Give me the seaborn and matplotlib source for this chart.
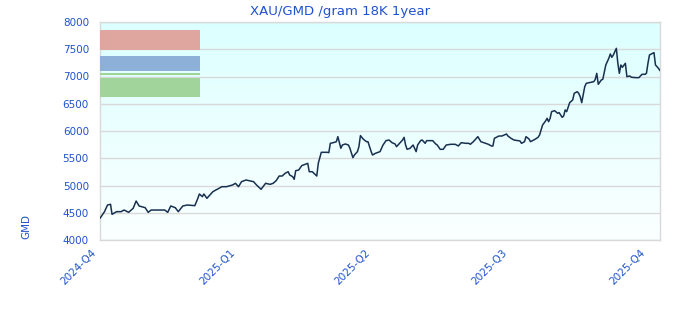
import numpy as np
import pandas as pd
import matplotlib
matplotlib.use("Agg")
import matplotlib.pyplot as plt
from matplotlib.patches import Rectangle
from matplotlib.colors import LinearSegmentedColormap
from matplotlib.transforms import ScaledTranslation
import seaborn as sns

# ---- data ----
start_date = "2024-10-01"
end_date = "2025-10-08"
days = [0, 3, 5, 7, 8, 11, 14, 16, 19, 22, 24, 26, 30, 32, 34, 39, 43, 45, 47, 50,
        52, 55, 58, 63, 65, 66, 68, 69, 71, 75, 77, 79, 81, 84, 88, 90, 92, 94, 97, 99,
        102, 104, 107, 108, 110, 113, 115, 117, 119, 121, 123, 125, 126, 128, 129, 130, 132, 134, 138, 139,
        141, 144, 145, 147, 151, 152, 153, 155, 157, 158, 160, 161, 163, 165, 166, 168, 169, 171, 172, 173,
        175, 177, 178, 180, 181, 183, 186, 188, 190, 192, 194, 196, 197, 201, 202, 203, 204, 206, 208, 210,
        211, 213, 214, 216, 217, 221, 223, 224, 226, 228, 230, 233, 236, 238, 240, 243, 245, 246, 248, 251,
        253, 256, 258, 260, 261, 262, 265, 267, 270, 271, 273, 275, 279, 280, 282, 283, 285, 286, 289, 291,
        292, 294, 296, 297, 298, 299, 300, 302, 304, 305, 307, 308, 309, 310, 312, 314, 315, 317, 318, 319,
        320, 322, 323, 325, 328, 329, 330, 331, 333, 334, 336, 338, 339, 340, 341, 343, 344, 345, 346, 347,
        349, 350, 352, 353, 356, 358, 360, 362, 363, 364, 365, 368, 369, 371, 372]
prices = [4398, 4520, 4642, 4655, 4471, 4520, 4520, 4550, 4508, 4580, 4715, 4624, 4593, 4508, 4550, 4550, 4550, 4508, 4624, 4593,
          4520, 4624, 4642, 4630, 4765, 4844, 4795, 4844, 4765, 4887, 4917, 4948, 4978, 4978, 5009, 5040, 4978, 5070, 5101, 5088,
          5070, 5009, 4930, 4967, 5040, 5021, 5040, 5088, 5174, 5174, 5224, 5253, 5193, 5162, 5113, 5272, 5284, 5364, 5407, 5253,
          5253, 5174, 5407, 5609, 5609, 5603, 5774, 5786, 5804, 5896, 5683, 5743, 5762, 5743, 5683, 5511, 5560, 5621, 5713, 5915,
          5848, 5804, 5804, 5633, 5560, 5591, 5621, 5743, 5823, 5835, 5786, 5762, 5713, 5835, 5884, 5743, 5664, 5683, 5743, 5621,
          5743, 5823, 5835, 5774, 5823, 5823, 5762, 5743, 5664, 5664, 5743, 5756, 5756, 5725, 5786, 5774, 5774, 5756, 5804, 5896,
          5804, 5774, 5756, 5725, 5725, 5866, 5908, 5908, 5945, 5908, 5866, 5835, 5817, 5774, 5804, 5896, 5853, 5804, 5848, 5884,
          5927, 6110, 6184, 6233, 6171, 6233, 6355, 6373, 6325, 6337, 6251, 6275, 6386, 6355, 6520, 6569, 6691, 6721, 6691, 6630,
          6520, 6813, 6875, 6887, 6905, 6948, 7058, 6857, 6936, 6948, 7211, 7334, 7413, 7352, 7395, 7517, 7242, 7058, 7211, 7169,
          7242, 6997, 7009, 6986, 6979, 6979, 7040, 7040, 7058, 7242, 7395, 7438, 7211, 7150, 7107]
quarter_dates = ["2024-10-01", "2025-01-01", "2025-04-01", "2025-07-01", "2025-10-01"]
quarter_labels = ["2024-Q4", "2025-Q1", "2025-Q2", "2025-Q3", "2025-Q4"]
y_ticks = [4000, 4500, 5000, 5500, 6000, 6500, 7000, 7500, 8000]
title = "XAU/GMD /gram 18K 1year"
y_label = "GMD"
legend_colors = ["#dfa69f", "#8db0d9", "#a0d49a"]

df = pd.DataFrame({
    "date": pd.to_datetime(start_date) + pd.to_timedelta(days, unit="D"),
    "price": prices,
})

sns.set_theme(style="white")
plt.rcParams["font.family"] = ["DejaVu Sans"]

blue = "#1f52cc"
fig = plt.figure(figsize=(6.8, 3.2), dpi=100)
ax = fig.add_axes([100 / 680, 80 / 320, 560 / 680, 218 / 320])

# gradient background (cyan at top, almost white at bottom)
grad = np.linspace(0, 1, 256).reshape(-1, 1)
cmap = LinearSegmentedColormap.from_list("bg", ["#dcffff", "#fbffff"])
ax.imshow(grad, cmap=cmap, aspect="auto", extent=[0, 1, 0, 1], origin="upper",
          transform=ax.transAxes, zorder=0)

sns.lineplot(data=df, x="date", y="price", ax=ax, color="#18304f",
             linewidth=1.1, zorder=3)

ax.set_xlim(pd.Timestamp(start_date), pd.Timestamp(end_date))
ax.set_ylim(y_ticks[0], y_ticks[-1])
ax.set_yticks(y_ticks)
ax.set_xticks(pd.to_datetime(quarter_dates))
ax.set_xticklabels(quarter_labels, rotation=45, ha="right", va="top",
                   rotation_mode="anchor")
ax.grid(axis="y", color="#d9d9d9", linewidth=1, zorder=1)
ax.grid(axis="x", visible=False)
ax.set_axisbelow(True)
for s in ax.spines.values():
    s.set_color("#d9d9d9")
    s.set_linewidth(1)
ax.tick_params(axis="both", length=0, labelsize=7.5, colors=blue)
ax.tick_params(axis="y", pad=8)
ax.tick_params(axis="x", pad=4)
shift = ScaledTranslation(-0.09, -0.02, fig.dpi_scale_trans)
for lbl in ax.get_xticklabels():
    lbl.set_transform(lbl.get_transform() + shift)

ax.set_xlabel("")
ax.set_ylabel(y_label, color=blue, fontsize=7.5)
ax.yaxis.set_label_coords(-0.123, 0.064)

fig.text(0.5, 1 - 11 / 320, title, ha="center", va="center",
         color=blue, fontsize=9.5)

# legend placeholder boxes
boxes = [(0.872, 0.963), (0.775, 0.844), (0.656, 0.743)]
for (y0, y1), c in zip(boxes, legend_colors):
    ax.add_patch(Rectangle((0, y0), 0.1786, y1 - y0, transform=ax.transAxes,
                           facecolor=c, edgecolor="none", zorder=4))
ax.add_patch(Rectangle((0, 0.757), 0.1786, 0.008, transform=ax.transAxes,
                       facecolor=legend_colors[2], edgecolor="none", zorder=4))

fig.savefig("out.png", dpi=100)
